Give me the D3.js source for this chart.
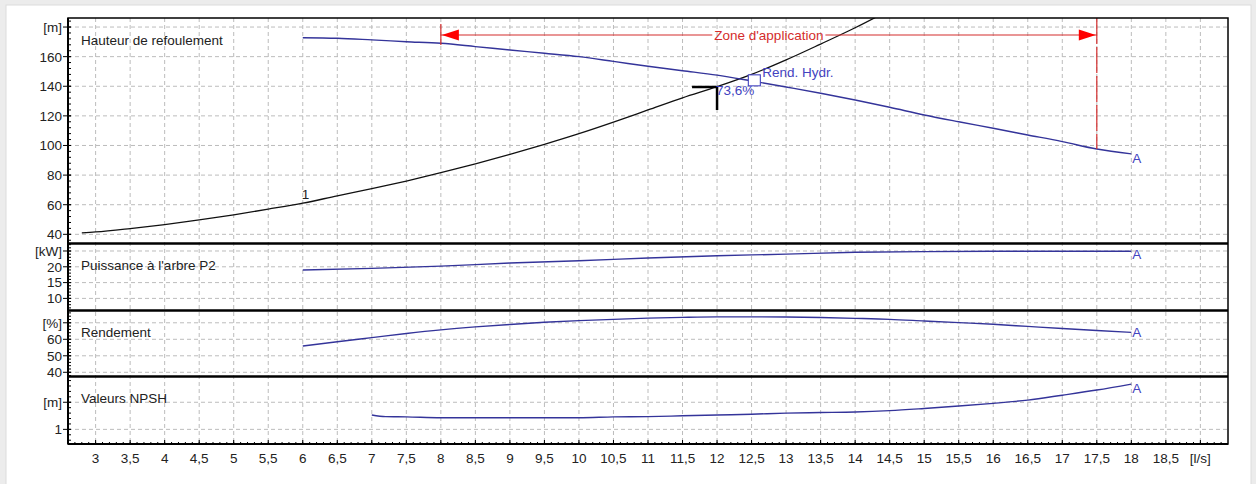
<!DOCTYPE html>
<html>
<head>
<meta charset="utf-8">
<script src="https://cdn.jsdelivr.net/npm/d3@7"></script>
<style>
  body { margin: 0; background: #ececec; }
  svg { display: block; }
  text { font-family: "Liberation Sans", Arial, sans-serif; font-size: 13.5px; }
</style>
</head>
<body>
<svg id="chart" width="1256" height="484"></svg>
<script>
// ---- Flow axis (l/s) ----
const flowTicks = [3,3.5,4,4.5,5,5.5,6,6.5,7,7.5,8,8.5,9,9.5,10,10.5,11,11.5,12,12.5,13,13.5,14,14.5,15,15.5,16,16.5,17,17.5,18,18.5];
const flowUnit = "[l/s]";
const flowUnitAt = 19;

// ---- Pump head curve (m) ----
const headQ = [6,6.5,7,7.5,8,8.5,9,9.5,10,10.5,11,11.5,12,12.5,13,13.5,14,14.5,15,15.5,16,16.5,17,17.5,18];
const headH = [172.8,172.4,171.3,170.1,169,166.8,164.5,162.3,160,156.8,153.5,150.5,147.5,143.6,139.5,135.3,130.7,125.8,120.6,116,111.6,107.1,102.6,97.6,94.3];

// ---- System curve (m) ----
const sysQ = [2.8,3,3.5,4,4.5,5,5.5,6,6.5,7,7.5,8,8.5,9,9.5,10,10.5,11,11.5,12,12.5,13,13.5,14,14.5];
const sysH = [41,41.6,43.9,46.6,49.7,53.2,57,61,66,70.8,76,81.6,87.6,94,100.8,108,115.8,124,132.2,139.7,148,157.8,168.5,179.5,191.5];

// ---- Shaft power P2 (kW) ----
const powerQ = [6,7,8,9,10,11,12,13,14,15,16,17,18];
const powerP = [19,19.5,20.2,21.2,21.9,22.8,23.5,24,24.6,24.8,24.9,24.9,24.9];

// ---- Efficiency (%) ----
const effQ = [6,6.5,7,7.5,8,8.5,9,9.5,10,10.5,11,11.5,12,12.5,13,13.5,14,14.5,15,15.5,16,16.5,17,17.5,18];
const effE = [55.9,58.5,61,63.5,65.7,67.5,69,70.3,71.3,72.1,72.8,73.3,73.6,73.6,73.5,73.2,72.7,72.1,71.1,70.1,69.1,67.8,66.5,65.3,64.2];

// ---- NPSH required (m) ----
const npshQ = [7,7.2,7.5,8,9,10,10.5,11,11.5,12,12.5,13,13.5,14,14.5,15,15.5,16,16.5,17,17.5,18];
const npshN = [1.53,1.47,1.46,1.43,1.43,1.43,1.46,1.47,1.5,1.53,1.56,1.6,1.62,1.64,1.69,1.77,1.86,1.96,2.08,2.26,2.45,2.67];

// ---- Duty point, best efficiency and application range ----
const dutyQ = 12, dutyH = 139.5, dutyEff = "73,6%";
const bepQ = 12.54, bepH = 144, bepLabel = "Rend. Hydr.";
const zoneStart = 8, zoneEnd = 17.5, zoneLabel = "Zone d'application";
const curveName = "A", systemName = "1";

// ---- Layout ----
const L = 68, R = 1228, T = 18, B = 444;
const curveColor = "#34349a", labelBlue = "#4343c0", red = "#d42c2c", gridColor = "#bcbcbc";

const svg = d3.select("#chart");
svg.append("rect").attr("x", 6).attr("y", 5).attr("width", 1245).attr("height", 480)
  .attr("fill", "#fff").attr("stroke", "#dcdcdc");

const x = d3.scaleLinear().domain([2.6, 19.4]).range([L, R]);

const panels = [
  { key: "head",  title: "Hauteur de refoulement", top: 18,    bottom: 243.5, domain: [33.8, 186.1], ticks: [40,60,80,100,120,140,160], unitAt: 180, unit: "[m]",  minor: 4 },
  { key: "power", title: "Puissance à l'arbre P2", top: 243.5, bottom: 310.5, domain: [6.17, 27.37], ticks: [10,15,20], unitAt: 25, unit: "[kW]", minor: 1 },
  { key: "eff",   title: "Rendement",              top: 310.5, bottom: 376.5, domain: [37.45, 77.45], ticks: [40,50,60], unitAt: 70, unit: "[%]",  minor: 2 },
  { key: "npsh",  title: "Valeurs NPSH",           top: 376.5, bottom: 444,   domain: [0.46, 2.95], ticks: [1], unitAt: 2, unit: "[m]", minor: 0.2 }
];
panels.forEach(p => { p.y = d3.scaleLinear().domain(p.domain).range([p.bottom, p.top]); });
const P = Object.fromEntries(panels.map(p => [p.key, p]));

const defs = svg.append("defs");
panels.forEach(p => {
  defs.append("clipPath").attr("id", "clip-" + p.key)
    .append("rect").attr("x", L).attr("y", p.top).attr("width", R - L).attr("height", p.bottom - p.top);
});

// vertical grid
const grid = svg.append("g");
[...flowTicks, flowUnitAt].forEach(v => {
  grid.append("line").attr("x1", x(v)).attr("x2", x(v)).attr("y1", T).attr("y2", B)
    .attr("stroke", gridColor).attr("stroke-dasharray", "4,3");
});
// horizontal grid + y axes
panels.forEach(p => {
  [...p.ticks, p.unitAt].forEach(v => {
    grid.append("line").attr("x1", L).attr("x2", R).attr("y1", p.y(v)).attr("y2", p.y(v))
      .attr("stroke", gridColor).attr("stroke-dasharray", "4,3");
  });
  const ax = svg.append("g");
  const start = Math.ceil(p.domain[0] / p.minor) * p.minor;
  d3.range(start, p.domain[1], p.minor).forEach(v => {
    ax.append("line").attr("x1", L).attr("x2", L + 3).attr("y1", p.y(v)).attr("y2", p.y(v))
      .attr("stroke", "#000");
  });
  [...p.ticks, p.unitAt].forEach(v => {
    ax.append("line").attr("x1", L - 5).attr("x2", L + 3).attr("y1", p.y(v)).attr("y2", p.y(v))
      .attr("stroke", "#000");
  });
  p.ticks.forEach(v => {
    ax.append("text").attr("x", L - 6).attr("y", p.y(v)).attr("dy", "0.36em")
      .attr("text-anchor", "end").attr("fill", "#222").text(v);
  });
  ax.append("text").attr("x", L - 6).attr("y", p.y(p.unitAt)).attr("dy", "0.36em")
    .attr("text-anchor", "end").attr("fill", "#222").text(p.unit);
  svg.append("text").attr("x", 81).attr("y", p.top + 26.5).attr("fill", "#222").text(p.title);
});

// x axis ticks and labels
const xa = svg.append("g");
d3.range(2.7, 19.4, 0.1).forEach(v => {
  xa.append("line").attr("x1", x(v)).attr("x2", x(v)).attr("y1", B - 2).attr("y2", B).attr("stroke", "#000");
});
[...flowTicks, flowUnitAt].forEach(v => {
  xa.append("line").attr("x1", x(v)).attr("x2", x(v)).attr("y1", B - 4).attr("y2", B + 1).attr("stroke", "#000");
});
flowTicks.forEach(v => {
  xa.append("text").attr("x", x(v)).attr("y", 463).attr("text-anchor", "middle").attr("fill", "#222")
    .text(String(v).replace(".", ","));
});
xa.append("text").attr("x", x(flowUnitAt)).attr("y", 463).attr("text-anchor", "middle").attr("fill", "#222").text(flowUnit);

// curves
function drawCurve(panel, qs, vs, color, width) {
  const ys = P[panel].y;
  const line = d3.line().x(d => x(d[0])).y(d => ys(d[1])).curve(d3.curveMonotoneX);
  svg.append("path").datum(qs.map((q, i) => [q, vs[i]]))
    .attr("clip-path", "url(#clip-" + panel + ")")
    .attr("d", line).attr("fill", "none").attr("stroke", color).attr("stroke-width", width);
}
drawCurve("head", sysQ, sysH, "#111", 1.3);
drawCurve("head", headQ, headH, curveColor, 1.4);
drawCurve("power", powerQ, powerP, curveColor, 1.4);
drawCurve("eff", effQ, effE, curveColor, 1.4);
drawCurve("npsh", npshQ, npshN, curveColor, 1.4);

// "A" end labels
[["head", headQ, headH, 4], ["power", powerQ, powerP, 3], ["eff", effQ, effE, 0], ["npsh", npshQ, npshN, 4]]
  .forEach(([k, qs, vs, off]) => {
    const i = qs.length - 1;
    svg.append("text").attr("x", x(qs[i]) + 1).attr("y", P[k].y(vs[i]) + off).attr("dy", "0.36em")
      .attr("fill", labelBlue).text(curveName);
  });
// system curve label
svg.append("text").attr("x", x(6) - 1).attr("y", P.head.y(sysH[sysQ.indexOf(6)]) - 4)
  .attr("fill", "#222").text(systemName);

// application range
const zy = 35;
const zg = svg.append("g");
zg.append("line").attr("x1", x(zoneStart)).attr("x2", x(zoneStart)).attr("y1", zy - 11).attr("y2", zy + 10)
  .attr("stroke", red).attr("stroke-width", 1.2);
const hEnd = headH[headQ.indexOf(zoneEnd)];
zg.append("line").attr("x1", x(zoneEnd)).attr("x2", x(zoneEnd)).attr("y1", T).attr("y2", P.head.y(hEnd))
  .attr("stroke", red).attr("stroke-width", 1.2).attr("stroke-dasharray", "26,3");
const zText = zg.append("text").attr("x", x((zoneStart + zoneEnd) / 2)).attr("y", zy).attr("dy", "0.36em")
  .attr("text-anchor", "middle").attr("fill", red).text(zoneLabel);
const tw = zText.node().getComputedTextLength();
const cx = x((zoneStart + zoneEnd) / 2);
zg.append("line").attr("x1", x(zoneStart)).attr("x2", cx - tw / 2 - 2).attr("y1", zy).attr("y2", zy)
  .attr("stroke", red).attr("stroke-width", 1.2);
zg.append("line").attr("x1", cx + tw / 2 + 2).attr("x2", x(zoneEnd)).attr("y1", zy).attr("y2", zy)
  .attr("stroke", red).attr("stroke-width", 1.2);
zg.append("path").attr("d", `M${x(zoneStart) + 1},${zy} L${x(zoneStart) + 18},${zy - 5.5} L${x(zoneStart) + 18},${zy + 5.5} Z`)
  .attr("fill", "#f00");
zg.append("path").attr("d", `M${x(zoneEnd) - 1},${zy} L${x(zoneEnd) - 18},${zy - 5.5} L${x(zoneEnd) - 18},${zy + 5.5} Z`)
  .attr("fill", "#f00");

// best efficiency marker
svg.append("rect").attr("x", x(bepQ) - 6).attr("y", P.head.y(bepH) - 5.5).attr("width", 12).attr("height", 11)
  .attr("fill", "#fff").attr("stroke", labelBlue).attr("stroke-width", 1.1);
svg.append("text").attr("x", x(bepQ) + 8).attr("y", P.head.y(bepH) - 3).attr("fill", labelBlue).text(bepLabel);

// duty point marker
const dx = x(dutyQ), dy = P.head.y(dutyH);
svg.append("line").attr("x1", dx - 25).attr("x2", dx + 1).attr("y1", dy).attr("y2", dy)
  .attr("stroke", "#000").attr("stroke-width", 2.5);
svg.append("line").attr("x1", dx).attr("x2", dx).attr("y1", dy).attr("y2", dy + 23)
  .attr("stroke", "#000").attr("stroke-width", 2.5);
svg.append("text").attr("x", dx - 1).attr("y", dy + 8).attr("fill", labelBlue).text(dutyEff);

// frame and panel separators
svg.append("rect").attr("x", L).attr("y", T).attr("width", R - L).attr("height", B - T)
  .attr("fill", "none").attr("stroke", "#000").attr("stroke-width", 1.5);
svg.append("line").attr("x1", L).attr("x2", L).attr("y1", T).attr("y2", B).attr("stroke", "#000").attr("stroke-width", 2);
svg.append("line").attr("x1", L).attr("x2", R).attr("y1", B).attr("y2", B).attr("stroke", "#000").attr("stroke-width", 2);
panels.slice(1).forEach(p => {
  svg.append("line").attr("x1", L).attr("x2", R).attr("y1", p.top).attr("y2", p.top)
    .attr("stroke", "#000").attr("stroke-width", 2.5);
});
</script>
</body>
</html>
